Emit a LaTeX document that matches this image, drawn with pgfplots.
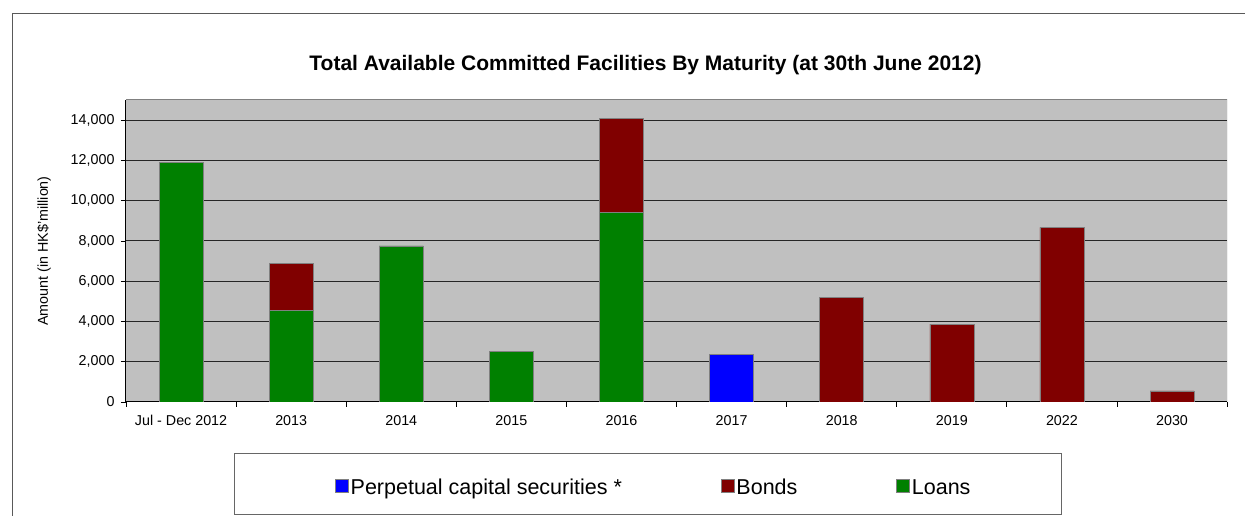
\documentclass[border=0pt]{standalone}
\usepackage{pgfplots}
\pgfplotsset{compat=1.18}
\usepackage{fontspec}
\setmainfont{Liberation Sans}
\definecolor{loanc}{RGB}{0,128,0}
\definecolor{bondc}{RGB}{128,0,0}
\definecolor{perpc}{RGB}{0,0,255}
\definecolor{plotbg}{RGB}{192,192,192}
\definecolor{edgec}{RGB}{128,128,128}
\begin{document}
\begin{tikzpicture}[x=1pt,y=1pt]
\useasboundingbox (0,0) rectangle (1245,516);
\draw[black!65, line width=1pt] (12,-5) -- (12,502) -- (1250,502);
\node[font=\bfseries\fontsize{21}{24}\selectfont] at (645.5,450.5) {Total Available Committed Facilities By Maturity (at 30th June 2012)};
\draw[black!60, line width=1pt] (234.3,1) rectangle (1061.7,62);
\begin{axis}[
  at={(126pt,114pt)}, anchor=south west, scale only axis,
  width=1101pt, height=302pt,
  ybar stacked, bar width=0.4,
  xmin=-0.5, xmax=9.5, ymin=0, ymax=15000,
  axis background/.style={fill=plotbg},
  axis x line*=bottom, axis y line*=left,
  axis line style={-, black, line width=1pt},
  xtick={0,...,9},
  xticklabels={Jul - Dec 2012,2013,2014,2015,2016,2017,2018,2019,2022,2030},
  major x tick style={draw=none},
  minor xtick={-0.5,0.5,...,9.5},
  minor tick length=5pt,
  ytick={0,2000,...,14000},
  major tick length=5pt,
  tick align=outside,
  tick style={black, line width=0.8pt},
  ymajorgrids,
  major grid style={black!85, line width=1pt},
  /pgf/number format/assume math mode=true,
  /pgf/number format/1000 sep={,},
  scaled y ticks=false,
  ticklabel style={font=\fontsize{14.3}{16}\selectfont},
  xticklabel style={yshift=-5pt},
  yticklabel style={xshift=-3pt},
  ylabel={Amount (in HK\$'million)},
  every axis y label/.style={at={(axis description cs:-0.0745,0.5)}, rotate=90, anchor=center, font=\fontsize{14.3}{16}\selectfont},
  legend style={draw=none, fill=none, at={(axis description cs:0.1898,-0.2846)}, anchor=west,
    inner sep=0pt, font=\fontsize{21.5}{24}\selectfont,
    nodes={inner xsep=2pt, inner ysep=0pt},
    /tikz/every even column/.append style={column sep=97pt}},
  legend columns=3,
  reverse legend,
  legend image code/.code={\fill[#1] (0pt,-4.8pt) rectangle (13pt,8.2pt);},
]
\addplot[fill=loanc, draw=edgec, line width=0.5pt] coordinates {(0,11900) (1,4550) (2,7760) (3,2520) (4,9400) (5,0) (6,0) (7,0) (8,0) (9,0)};
\addplot[fill=bondc, draw=edgec, line width=0.5pt] coordinates {(0,0) (1,2320) (2,0) (3,0) (4,4690) (5,0) (6,5180) (7,3870) (8,8670) (9,550)};
\addplot[fill=perpc, draw=edgec, line width=0.5pt] coordinates {(0,0) (1,0) (2,0) (3,0) (4,0) (5,2380) (6,0) (7,0) (8,0) (9,0)};
\legend{Loans,Bonds,Perpetual capital securities *}
\draw[edgec, line width=1pt] (rel axis cs:0,1) -- (rel axis cs:1,1) -- (rel axis cs:1,0);
\end{axis}
\end{tikzpicture}
\end{document}
